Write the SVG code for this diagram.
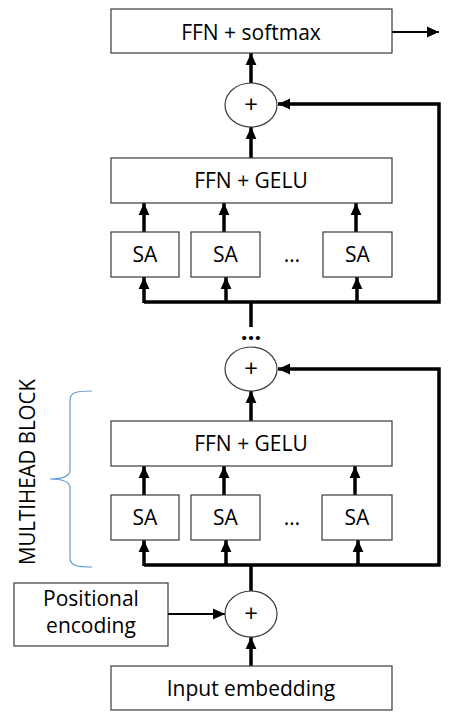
<svg xmlns="http://www.w3.org/2000/svg" width="454" height="720" viewBox="0 0 454 720">
<defs>
<style>
.box{fill:#fff;stroke:#3a3a3a;stroke-width:1.2}
.sum{fill:#fff;stroke:#3a3a3a;stroke-width:1.2}
.t{font-family:"Open Sans","Liberation Sans",sans-serif;font-size:21px;fill:#000;text-anchor:middle}
.plus{font-family:"Open Sans","Liberation Sans",sans-serif;font-size:24px;fill:#000;text-anchor:middle}
.thick{fill:none;stroke:#000;stroke-width:3.5}
.thin{fill:none;stroke:#000;stroke-width:2.2}
.brace{fill:none;stroke:#5b9bd5;stroke-width:1.2}
</style>
<marker id="ah" markerUnits="userSpaceOnUse" markerWidth="12" markerHeight="12" viewBox="0 0 10 10" refX="10" refY="5" orient="auto">
<path d="M0,0.5 L10,5 L0,9.5 z" fill="#000"/>
</marker>
</defs>
<g id="connectors">
<line class="thin" x1="392" y1="32" x2="439" y2="32" marker-end="url(#ah)"/>
<line class="thick" x1="251" y1="83" x2="251" y2="53" marker-end="url(#ah)"/>
<line class="thick" x1="251" y1="158" x2="251" y2="127" marker-end="url(#ah)"/>
<line class="thick" x1="144" y1="232" x2="144" y2="203" marker-end="url(#ah)"/>
<line class="thick" x1="224" y1="232" x2="224" y2="203" marker-end="url(#ah)"/>
<line class="thick" x1="356" y1="232" x2="356" y2="203" marker-end="url(#ah)"/>
<path class="thick" d="M144,302 H439 V104 H278" marker-end="url(#ah)"/>
<line class="thick" x1="144" y1="303" x2="144" y2="277" marker-end="url(#ah)"/>
<line class="thick" x1="226" y1="303" x2="226" y2="277" marker-end="url(#ah)"/>
<line class="thick" x1="357" y1="303" x2="357" y2="277" marker-end="url(#ah)"/>
<line class="thick" x1="251" y1="327" x2="251" y2="302"/>
<line class="thick" x1="251" y1="421" x2="251" y2="391" marker-end="url(#ah)"/>
<line class="thick" x1="144" y1="495" x2="144" y2="466" marker-end="url(#ah)"/>
<line class="thick" x1="224" y1="495" x2="224" y2="466" marker-end="url(#ah)"/>
<line class="thick" x1="355" y1="495" x2="355" y2="466" marker-end="url(#ah)"/>
<path class="thick" d="M144,565 H439 V369 H278" marker-end="url(#ah)"/>
<line class="thick" x1="144" y1="566" x2="144" y2="540" marker-end="url(#ah)"/>
<line class="thick" x1="226" y1="566" x2="226" y2="540" marker-end="url(#ah)"/>
<line class="thick" x1="358" y1="566" x2="358" y2="540" marker-end="url(#ah)"/>
<line class="thick" x1="251" y1="592" x2="251" y2="565"/>
<line class="thin" x1="168" y1="614" x2="225" y2="614" marker-end="url(#ah)"/>
<line class="thick" x1="251" y1="666" x2="251" y2="637" marker-end="url(#ah)"/>
</g>
<g id="ffn-softmax"><rect class="box" x="111" y="9" width="281" height="44"/><text class="t" x="251" y="40">FFN + softmax</text></g>
<g id="add-top"><ellipse class="sum" cx="251" cy="105" rx="26" ry="22"/><text class="plus" x="251" y="113">+</text></g>
<g id="ffn-gelu-2"><rect class="box" x="111" y="158" width="281" height="45"/><text class="t" x="251" y="188">FFN + GELU</text></g>
<g id="sa-2a"><rect class="box" x="111" y="232" width="68" height="45"/><text class="t" x="145" y="262">SA</text></g>
<g id="sa-2b"><rect class="box" x="191" y="232" width="69" height="45"/><text class="t" x="225.5" y="262">SA</text></g>
<g id="sa-2dots"><text class="t" x="292" y="262">…</text></g>
<g id="sa-2c"><rect class="box" x="323" y="232" width="69" height="45"/><text class="t" x="357.5" y="262">SA</text></g>
<g id="between-dots"><text class="t" x="251" y="340" style="font-weight:bold;font-size:24px">…</text></g>
<g id="add-mid"><ellipse class="sum" cx="251" cy="369" rx="26" ry="22"/><text class="plus" x="251" y="377">+</text></g>
<g id="ffn-gelu-1"><rect class="box" x="111" y="421" width="281" height="45"/><text class="t" x="251" y="451">FFN + GELU</text></g>
<g id="sa-1a"><rect class="box" x="111" y="495" width="68" height="45"/><text class="t" x="145" y="525">SA</text></g>
<g id="sa-1b"><rect class="box" x="191" y="495" width="69" height="45"/><text class="t" x="225.5" y="525">SA</text></g>
<g id="sa-1dots"><text class="t" x="292" y="525">…</text></g>
<g id="sa-1c"><rect class="box" x="322" y="495" width="70" height="45"/><text class="t" x="357" y="525">SA</text></g>
<g id="multihead-label">
<path class="brace" d="M92,391 C78,391 70,392 70,400 V470 C70,477 62,479 50,479 C62,479 70,481 70,488 V558 C70,566 78,567 92,567"/>
<text class="t" transform="translate(35,472) rotate(-90)" style="font-size:21px" textLength="186" lengthAdjust="spacingAndGlyphs">MULTIHEAD BLOCK</text>
</g>
<g id="positional"><rect class="box" x="14" y="583" width="154" height="63"/><text class="t" x="91" y="606">Positional</text><text class="t" x="91" y="633">encoding</text></g>
<g id="add-input"><ellipse class="sum" cx="251" cy="614" rx="26" ry="23"/><text class="plus" x="251" y="622">+</text></g>
<g id="input-embedding"><rect class="box" x="111" y="666" width="281" height="44"/><text class="t" x="251" y="696">Input embedding</text></g>
</svg>
